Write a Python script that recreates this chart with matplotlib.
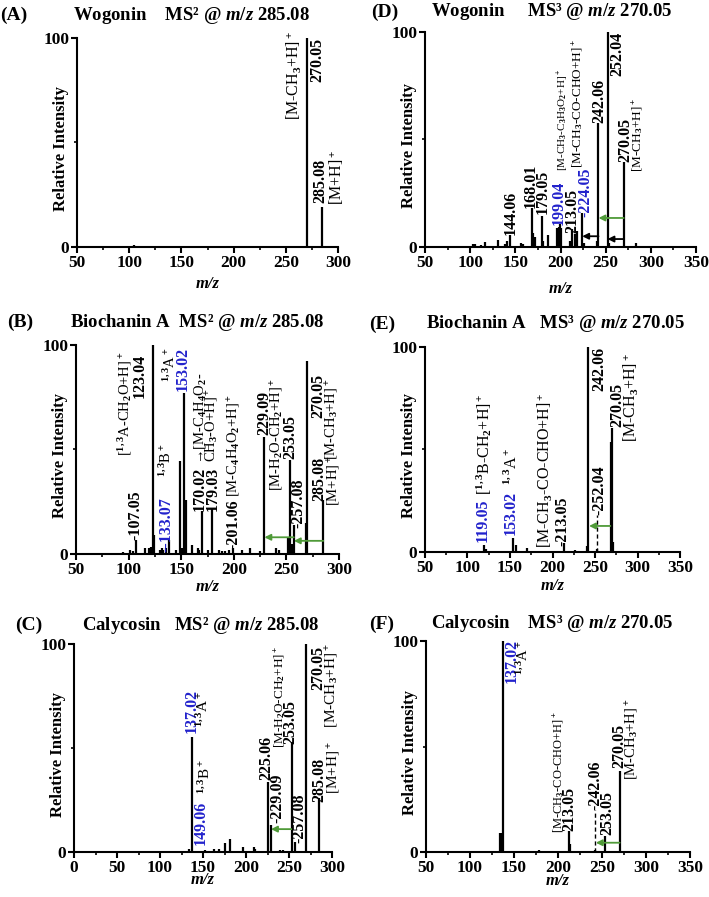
import matplotlib.pyplot as plt
from matplotlib.ticker import MultipleLocator

plt.rcParams['font.family'] = ['Liberation Serif', 'DejaVu Serif']
plt.rcParams['font.weight'] = 'bold'
plt.rcParams['mathtext.fontset'] = 'custom'
plt.rcParams['mathtext.rm'] = 'Liberation Serif:bold'
plt.rcParams['mathtext.it'] = 'Liberation Serif:italic:bold'
plt.rcParams['mathtext.bf'] = 'Liberation Serif:bold'
plt.rcParams['axes.linewidth'] = 1.5

########################################################################################################################
# Peak lists (m/z, relative intensity).
########################################################################################################################

a_mz = [105.0, 270.05, 285.08]
a_int = [0.8, 100, 19.3]

d_mz = [103, 105, 112, 116, 131, 139, 141, 144.06, 156, 158, 168.01, 170, 172, 179.05, 181, 186,
        196, 198, 199.04, 201, 211, 213.05, 216, 218, 224.05, 226, 240, 242.06, 252.04, 254, 270.05, 284]
d_int = [1.2, 1.5, 1, 2.3, 3.3, 1.5, 3.0, 5.5, 2, 1.5, 18, 6.3, 4.5, 14.5, 3, 5.5,
         9, 9.5, 10.5, 9, 3, 8.5, 6, 7.5, 16, 2, 3, 57.5, 100, 2, 39.5, 2]

b_mz = [95, 101.5, 104, 107.05, 116, 119, 121, 123.04, 124.5, 130, 131.5, 133.07, 136, 138.5, 145,
        148.5, 150.5, 153.02, 154.5, 160.5, 165.5, 167, 170.02, 175, 179.03, 186, 189, 192, 195,
        199.5, 208, 215, 225, 229.09, 240.5, 243, 251.5, 253.05, 255, 257.08, 268.8, 270.05, 285.08]
b_int = [1, 2, 1.5, 6.8, 3, 3, 3.5, 100, 9.2, 2, 3, 2, 3, 6.5, 2,
         44.6, 3, 77, 26, 4.3, 3, 2, 20.4, 2, 21.5, 2, 1.5, 1.5, 2,
         2.7, 2, 2.7, 1.5, 56, 3, 2, 8, 45, 5, 14, 15, 92.4, 26]

e_mz = [106, 119.05, 122, 153.02, 157, 170, 213.05, 226, 240, 242.06, 252.04, 268.8, 270.05, 271.5]
e_int = [0.5, 3.6, 1.5, 6.8, 3.5, 2, 4.4, 1, 3, 100, 1.5, 53.8, 60.3, 5]

c_mz = [107.8, 124, 133.7, 137.02, 152, 162.8, 168.6, 175, 181.4, 197, 209, 211,
        225.06, 229.09, 240, 243, 253.05, 257.08, 270.05, 285.08]
c_int = [0.5, 0.5, 1.5, 55.4, 1, 1.5, 1.5, 4.5, 6.1, 2.6, 2.2, 1.5,
         33.8, 13, 1, 1, 53, 5, 100, 25.8]

f_mz = [134, 135.5, 137.02, 178, 185, 213.05, 214, 242.06, 253.05, 270.05]
f_int = [9, 9, 100, 1, 0.5, 9.8, 4, 1, 7.4, 38.2]

########################################################################################################################
# Peak labels: (x, y, text, kind, va)  kind: n = number, b = blue number, a = assignment, s = small assignment
########################################################################################################################

a_labels = [(280, 100, '270.05', 'n', 'top'), (257, 103, '[M-CH$_3$+H]$^+$', 'a', 'top'),
            (283, 21, '285.08', 'n', 'bottom'), (299, 20, '[M+H]$^+$', 'a', 'bottom')]

d_labels = [(145, 5.5, '144.06', 'n', 'bottom'), (167, 18, '168.01', 'n', 'bottom'),
            (180, 15.5, '179.05', 'n', 'bottom'), (198.5, 10.4, '199.04', 'b', 'bottom'),
            (203.5, 35.2, '[M-CH$_3$-C$_3$H$_3$O$_2$+H]$^+$', 's', 'bottom'),
            (213, 6.5, '213.05', 'n', 'bottom'), (219, 36.7, '[M-CH$_3$-CO-CHO+H]$^+$', 'a', 'bottom'),
            (228, 14, '-224.05', 'b', 'bottom'), (243, 57.5, '242.06', 'n', 'bottom'),
            (263, 100, '252.04', 'n', 'top'), (272, 39.5, '270.05', 'n', 'bottom'),
            (285, 35, '[M-CH$_3$+H]$^+$', 'a', 'bottom')]

b_labels = [(96.5, 47, '[$^{1,3}$A-CH$_2$O+H]$^+$', 'a', 'bottom'), (110.8, 74.5, '123.04', 'n', 'bottom'),
            (106, 6.8, '-107.05', 'n', 'bottom'), (136, 1, '--133.07', 'b', 'bottom'),
            (136, 37, '$^{1,3}$B$^+$', 'a', 'bottom'), (139, 82.5, '$^{1,3}$A$^+$', 'a', 'bottom'),
            (151, 78, '153.02', 'b', 'bottom'), (168, 20.4, '170.02', 'n', 'bottom'),
            (168, 43, '\u2192[M-C$_4$H$_4$O$_2$-', 'a', 'bottom'), (179.5, 20.4, '179.03', 'n', 'bottom'),
            (180, 44, 'CH$_3$-O+H]$^+$', 'a', 'bottom'), (199.4, 2.5, '-201.06', 'n', 'bottom'),
            (200.5, 27.5, '[M-C$_4$H$_4$O$_2$+H]$^+$', 'a', 'bottom'), (229.4, 57, '229.09', 'n', 'bottom'),
            (241.5, 30, '[M-H$_2$O-CH$_2$+H]$^+$', 'a', 'bottom'), (254, 45.5, '253.05', 'n', 'bottom'),
            (261.5, 12.4, '-257.08', 'n', 'bottom'), (280, 65, '270.05', 'n', 'bottom'),
            (294, 45, '[M-CH$_3$+H]$^+$', 'a', 'bottom'), (281.6, 25.5, '285.08', 'n', 'bottom'),
            (296, 23, '[M+H]$^+$', 'a', 'bottom')]

e_labels = [(117.5, 5, '119.05', 'b', 'bottom'), (119.5, 28, '[$^{1,3}$B-CH$_2$+H]$^+$', 'a', 'bottom'),
            (150.8, 8.4, '153.02', 'b', 'bottom'), (153, 32.7, '$^{1,3}$A$^+$', 'a', 'bottom'),
            (190.8, 2, '[M-CH$_3$-CO-CHO+H]$^+$', 'a', 'bottom'), (211.6, 2.8, '-213.05', 'n', 'bottom'),
            (254.7, 18, '-252.04', 'n', 'bottom'), (254.7, 100, '242.06', 'n', 'top'),
            (276, 61, '270.05', 'n', 'bottom'), (292, 53.8, '[M-CH$_3$+H]$^+$', 'a', 'bottom')]

c_labels = [(136.7, 57, '137.02', 'b', 'bottom'), (150, 60, '$^{1,3}$A$^+$', 'a', 'bottom'),
            (147.5, 3.4, '149.06', 'b', 'bottom'), (152.5, 28, '$^{1,3}$B$^+$', 'a', 'bottom'),
            (223.8, 34.6, '225.06', 'n', 'bottom'), (238.5, 50, '[M-H$_2$O-CH$_2$+H]$^+$', 's', 'bottom'),
            (237, 13.8, '-229.09', 'n', 'bottom'), (251.5, 52, '253.05', 'n', 'bottom'),
            (262.5, 4.2, '-257.08', 'n', 'bottom'), (283.8, 78, '270.05', 'n', 'bottom'),
            (301, 59.5, '[M-CH$_3$+H]$^+$', 'a', 'bottom'), (285.7, 24, '285.08', 'n', 'bottom'),
            (303, 28, '[M+H]$^+$', 'a', 'bottom')]

f_labels = [(147.5, 101, '137.02', 'b', 'top'), (160, 100, '$^{1,3}$A$^+$', 'a', 'top'),
            (200.4, 9, '[M-CH$_3$-CO-CHO+H]$^+$', 's', 'bottom'), (212.9, 10, '213.05', 'n', 'bottom'),
            (243, 20, '-242.06', 'n', 'bottom'), (256, 8, '253.05', 'n', 'bottom'),
            (269.7, 39.7, '270.05', 'n', 'bottom'), (284.8, 34, '[M-CH$_3$+H]$^+$', 'a', 'bottom')]

# neutral-loss arrows (from, to, height, colour) and dashed leaders (m/z, height)
d_arrows = [(270.05, 242.06, 13.5, 'g'), (242.06, 224.05, 5, 'k'), (270.05, 252.04, 3.7, 'k')]
b_arrows = [(257.08, 229.09, 8, 'g'), (285.08, 257.08, 6.3, 'g')]
e_arrows = [(268, 243, 12.7, 'g')]
c_arrows = [(253.05, 229.09, 11, 'g')]
f_arrows = [(270.05, 243, 4.4, 'g')]
e_leaders = [(252.04, 18)]
f_leaders = [(242.06, 20)]

########################################################################################################################
# Figure.
########################################################################################################################

W, H = 709, 897
fig = plt.figure(figsize=(W / 100, H / 100), dpi=100)
BLUE = '#2222cc'
GREEN = '#4f9a38'


def add_panel(left, top, right, bottom):
    return fig.add_axes([left / W, 1 - bottom / H, (right - left) / W, (bottom - top) / H])


def draw(ax, mz, inten, xmin, xmax, labels, arrows=(), leaders=(), ann=10.5, xl=35):
    ax.vlines(mz, 0, inten, color='black', lw=1.6)
    for x, y in leaders:
        ax.vlines(x, 0, y, color='black', lw=1, linestyles=(0, (3, 2)))
    for x0, x1, y, c in arrows:
        ax.annotate('', xy=(x1, y), xytext=(x0, y),
                    arrowprops=dict(arrowstyle='-|>', color=GREEN if c == 'g' else 'black',
                                    lw=1.3, shrinkA=0, shrinkB=0, mutation_scale=9))
    for x, y, s, kind, va in labels:
        if kind in ('n', 'b'):
            ax.text(x, y, s, rotation=90, ha='center', va=va, fontsize=11.5, fontweight='bold',
                    color=BLUE if kind == 'b' else 'black', clip_on=False)
        else:
            ax.text(x, y, s, rotation=90, ha='center', va=va, fontweight='normal',
                    fontsize=ann if kind == 'a' else ann - 1.5, color='black', clip_on=False)
    ax.set_xlim(xmin, xmax)
    ax.set_ylim(0, 100)
    ax.set_xticks(range(xmin, xmax + 1, 50))
    ax.xaxis.set_minor_locator(MultipleLocator(25))
    ax.set_yticks([0, 100])
    ax.yaxis.set_minor_locator(MultipleLocator(50))
    ax.spines['top'].set_visible(False)
    ax.spines['right'].set_visible(False)
    ax.tick_params(which='major', length=4, width=1.5, labelsize=12.5, pad=1.5)
    ax.tick_params(which='minor', length=2.5, width=1.2)
    bb = ax.get_position()
    wpx, hpx = bb.width * W, bb.height * H
    ax.set_ylabel('Relative Intensity', fontsize=12, fontweight='bold')
    ax.yaxis.set_label_coords(-8 / wpx, 0.47)
    ax.set_xlabel('m/z', fontsize=12, fontstyle='italic', fontweight='bold')
    ax.xaxis.set_label_coords(0.5, -xl / hpx)
    ax.xaxis.label.set_va('center')


def heading(x_letter, x_title, yc, letter, title):
    fig.text(x_letter / W, 1 - yc / H, letter, fontsize=14, va='center', ha='left')
    fig.text(x_title / W, 1 - yc / H, title, fontsize=13.5, va='center', ha='left')


axA = add_panel(77, 38, 338, 247)
draw(axA, a_mz, a_int, 50, 300, a_labels, ann=11.5, xl=37)
heading(0, 73, 15, '(A)', 'Wogonin    MS\u00b2 @ $m/z$ 285.08')

axD = add_panel(425, 32, 696, 247)
draw(axD, d_mz, d_int, 50, 350, d_labels, d_arrows, ann=9.5, xl=42)
heading(371, 431, 12, '(D)', 'Wogonin     MS\u00b3 @ $m/z$ 270.05')

axB = add_panel(76, 345, 339, 554)
draw(axB, b_mz, b_int, 50, 300, b_labels, b_arrows, ann=10.5, xl=33)
heading(7, 70, 322, '(B)', 'Biochanin A  MS\u00b2 @ $m/z$ 285.08')

axE = add_panel(425, 347, 680, 552)
draw(axE, e_mz, e_int, 50, 350, e_labels, e_arrows, e_leaders, ann=11.5, xl=34)
heading(369, 426, 324, '(E)', 'Biochanin A   MS\u00b3 @ $m/z$ 270.05')

axC = add_panel(74, 644, 332, 852)
draw(axC, c_mz, c_int, 0, 300, c_labels, c_arrows, ann=11, xl=28)
heading(15, 82, 625, '(C)', 'Calycosin   MS\u00b2 @ $m/z$ 285.08')

axF = add_panel(426, 641, 690, 852)
draw(axF, f_mz, f_int, 50, 350, f_labels, f_arrows, f_leaders, ann=10.5, xl=29)
heading(369, 431, 624, '(F)', 'Calycosin    MS\u00b3 @ $m/z$ 270.05')

fig.savefig('out.png', dpi=100)
